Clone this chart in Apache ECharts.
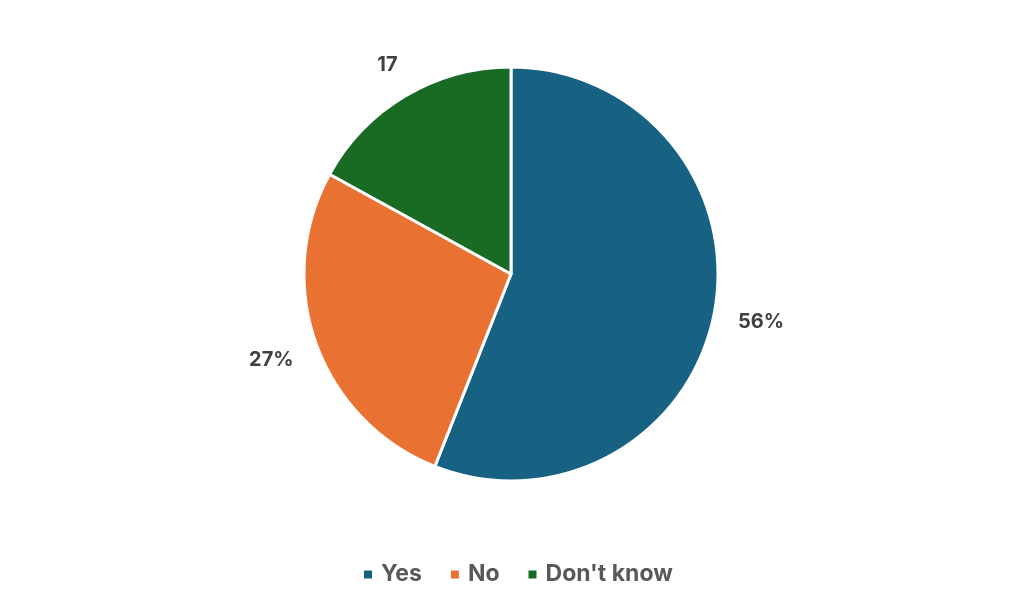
<!DOCTYPE html>
<html>
<head>
<meta charset="utf-8">
<script src="https://cdn.jsdelivr.net/npm/echarts@6/dist/echarts.min.js"></script>
<style>
    html, body { margin: 0; padding: 0; background: #fff; }
    #chart { width: 1023px; height: 614px; }
</style>
</head>
<body>
<div id="chart"></div>
<script>
// 数据
const categories = ['Yes', 'No', "Don't know"];
const values = [56, 27, 17];
const labelTexts = ['56%', '27%', '17'];
const colors = ['#176183', '#E97132', '#196B24'];

const pieCenter = [511, 274];
const pieRadius = 207;
// 标签框离圆心最近点的距离
const labelGap = 231;

const chart = echarts.init(document.getElementById('chart'));

// 扇区
const sliceData = categories.map((name, i) => ({
    name: name,
    value: values[i],
    itemStyle: { color: colors[i] }
}));

// 标签用透明环承载, 方向取扇区中线
const labelData = categories.map((name, i) => ({
    name: name,
    value: values[i],
    label: { formatter: labelTexts[i] }
}));

// 把标签沿半径方向推到框边离圆心 labelGap 的位置
const placeLabel = (params) => {
    const r = params.labelRect;
    const lx = r.x + r.width / 2;
    const ly = r.y + r.height / 2;
    const dx = lx - pieCenter[0];
    const dy = ly - pieCenter[1];
    const len = Math.sqrt(dx * dx + dy * dy) || 1;
    const ux = dx / len, uy = dy / len;
    const tx = Math.abs(ux) > 1e-6 ? (r.width / 2) / Math.abs(ux) : Infinity;
    const ty = Math.abs(uy) > 1e-6 ? (r.height / 2) / Math.abs(uy) : Infinity;
    const t = labelGap + Math.min(tx, ty);
    return {
        x: pieCenter[0] + ux * t,
        y: pieCenter[1] + uy * t,
        align: 'center',
        verticalAlign: 'middle'
    };
};

chart.setOption({
    animation: false,
    legend: {
        bottom: 23,
        left: 357,
        itemWidth: 10,
        itemHeight: 10,
        itemGap: 27,
        icon: 'rect',
        textStyle: {
            fontFamily: 'Inter',
            fontSize: 23,
            fontWeight: 'bold',
            color: '#595959',
            padding: [0, 0, 0, 3]
        },
        data: categories
    },
    series: [{
        type: 'pie',
        center: pieCenter,
        radius: [0, pieRadius],
        startAngle: 90,
        clockwise: true,
        itemStyle: { borderColor: '#fff', borderWidth: 3 },
        label: { show: false },
        labelLine: { show: false },
        emphasis: { disabled: true },
        data: sliceData
    }, {
        type: 'pie',
        center: pieCenter,
        radius: [240, 266],
        startAngle: 90,
        clockwise: true,
        silent: true,
        itemStyle: { color: 'transparent' },
        label: {
            show: true,
            position: 'inside',
            fontFamily: 'Inter',
            fontSize: 20,
            fontWeight: 'bold',
            color: '#404040'
        },
        labelLine: { show: false },
        labelLayout: placeLabel,
        emphasis: { disabled: true },
        data: labelData
    }]
});
</script>
</body>
</html>
